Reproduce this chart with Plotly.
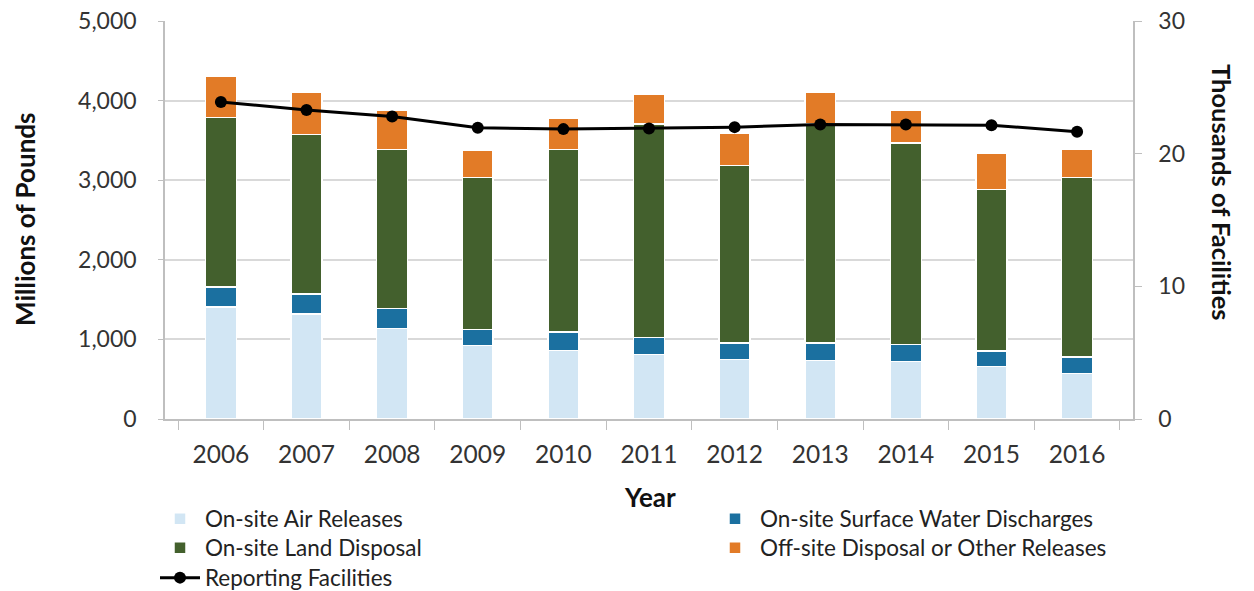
import plotly.graph_objects as go

years = ["2006", "2007", "2008", "2009", "2010", "2011", "2012", "2013", "2014", "2015", "2016"]
air = [1405, 1322, 1138, 921, 862, 808, 745, 736, 720, 661, 570]
water = [251, 251, 251, 201, 230, 213, 208, 217, 217, 192, 208]
land = [2133, 1999, 1999, 1915, 2296, 2685, 2230, 2753, 2531, 2033, 2258]
offsite = [514, 531, 486, 335, 394, 376, 405, 396, 414, 452, 351]
facilities = [23.9, 23.3, 22.8, 21.95, 21.85, 21.9, 22.0, 22.2, 22.2, 22.15, 21.65]

FONT = "Lato"
W, H = 1254, 591
# plot area in screen pixels: x 165..1133, y 21..419
L, T = 165, 21
R = W - 1133
B = H - 419

fig = go.Figure()
series = [
    ("On-site Air Releases", air, "#D2E6F4", "legend"),
    ("On-site Surface Water Discharges", water, "#1B70A0", "legend2"),
    ("On-site Land Disposal", land, "#43602D", "legend3"),
    ("Off-site Disposal or Other Releases", offsite, "#E27B27", "legend4"),
]
for name, vals, col, lg in series:
    fig.add_trace(go.Bar(x=years, y=vals, name=name, legend=lg, showlegend=True,
                         marker=dict(color=col, line=dict(color="white", width=1.5))))

fig.add_trace(go.Scatter(x=years, y=facilities, name="Reporting Facilities", yaxis="y2", legend="legend5",
                         showlegend=True, mode="lines+markers", line=dict(color="black", width=3),
                         marker=dict(color="black", size=12)))

legend_common = dict(orientation="v", xref="container", yref="container", xanchor="left", yanchor="middle",
                     font=dict(size=22.5, color="#222"), itemwidth=40, bgcolor="rgba(0,0,0,0)",
                     visible=True)

def leg(sx, sy):
    return dict(x=sx / W, y=1 - sy / H, **legend_common)

fig.update_layout(
    width=W, height=H, showlegend=True,
    margin=dict(l=L, r=R, t=T, b=B, autoexpand=False),
    paper_bgcolor="white", plot_bgcolor="white",
    barmode="stack", bargap=0.64,
    font=dict(family=FONT, size=22, color="#333"),
    xaxis=dict(type="category", tickson="boundaries", ticks="outside", ticklen=9,
               tickcolor="#bfbfbf", showline=True, linecolor="#bfbfbf", linewidth=1.5,
               tickfont=dict(size=24.5), ticklabelstandoff=13, ticklabeloverflow="allow"),
    yaxis=dict(range=[0, 5000], dtick=1000, tickformat=",", showgrid=True, gridcolor="#d9d9d9",
               gridwidth=1.5, showline=True, linecolor="#bfbfbf", linewidth=1.5,
               ticks="outside", ticklen=5, tickcolor="#bfbfbf", tickfont=dict(size=23),
               zeroline=False, ticklabelstandoff=17, ticklabeloverflow="allow"),
    yaxis2=dict(range=[0, 30], dtick=10, overlaying="y", side="right", showgrid=False,
                showline=True, linecolor="#bfbfbf", linewidth=1.5, ticks="outside", ticklen=7,
                tickcolor="#bfbfbf", tickfont=dict(size=23), zeroline=False, ticklabelstandoff=12,
                ticklabeloverflow="allow"),
    legend=leg(155, 519),
    legend2=leg(710, 519),
    legend3=leg(155, 548),
    legend4=leg(710, 548),
    legend5=leg(155, 578),
)

pw, ph = W - L - R, H - T - B

def ann(text, sx, sy, angle=0, size=25):
    fig.add_annotation(text=text, x=(sx - L) / pw, y=(H - B - sy) / ph,
                       xref="paper", yref="paper", xanchor="center", yanchor="middle",
                       showarrow=False, textangle=angle, font=dict(size=size, color="#111"))

ann("<b>Millions of Pounds</b>", 25, 219, -90, 26)
ann("<b>Thousands of Facilities</b>", 1222, 192, 90, 25.5)
ann("<b>Year</b>", 650, 497, 0, 26)

fig.write_html("out.html", config={"displayModeBar": False},
               post_script="document.body.style.margin='0';document.body.style.overflow='hidden';")
